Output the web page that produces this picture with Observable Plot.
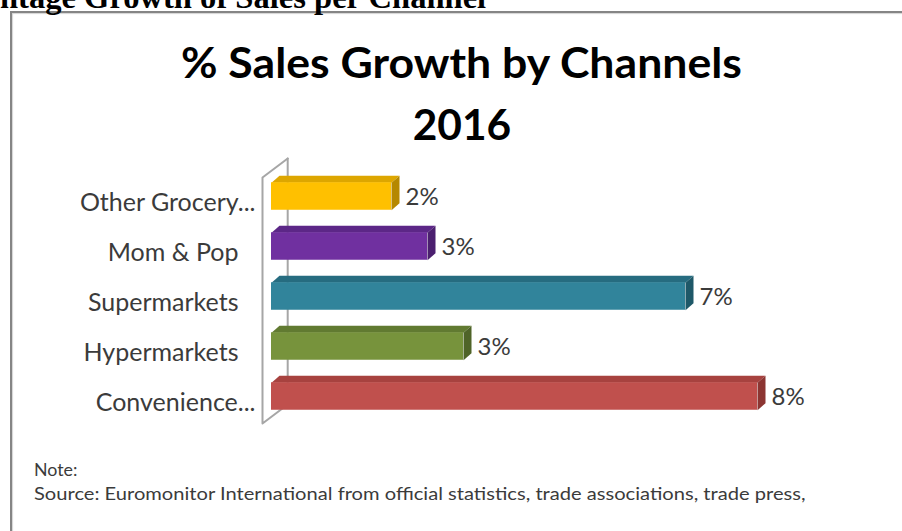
<!DOCTYPE html>
<html>
<head>
<meta charset="utf-8">
<script src="https://cdn.jsdelivr.net/npm/d3@7"></script>
<script src="https://cdn.jsdelivr.net/npm/@observablehq/plot@0.6"></script>
<style>
  html, body { margin: 0; padding: 0; background: #fff; }
  body { width: 902px; height: 531px; overflow: hidden; position: relative; }
  #box { position: absolute; left: 10px; top: 11px; width: 1000px; height: 700px;
         border-left: 2px solid #858585; border-top: 2px solid #858585;
         box-shadow: inset 1px 1px 1px #d4d4d4; }
  #chart { position: absolute; left: 0; top: 0; }
  .t { position: absolute; white-space: nowrap; line-height: 1; transform-origin: 0 0; }
</style>
</head>
<body>
<div id="box"></div>
<div id="chart"></div>
<script>
// ---- data ----
const categories = ["Other Grocery...", "Mom & Pop", "Supermarkets", "Hypermarkets", "Convenience..."];
const growth = [2.0, 2.6, 6.9, 3.2, 8.1];
const valueLabels = ["2%", "3%", "7%", "3%", "8%"];

// ---- style palette ----
const frontColors = ["#FFC000", "#7030A0", "#31849B", "#77933C", "#C0504D"];
const topColors   = ["#DDA600", "#5C2787", "#266C80", "#617A31", "#A7423F"];
const sideColors  = ["#B58800", "#4B1F6F", "#1E5868", "#4F6428", "#8C3532"];

const rows = categories.map((c, i) => ({category: c, index: i, value: growth[i], label: valueLabels[i]}));

// 3D geometry (in scale units)
const half = 0.275;         // half thickness of a bar (y units)
const depthX = 8 / 60;      // bar depth, x units
const depthY = 7 / 50;      // bar depth, y units
const faces = [];
rows.forEach(d => {
  const t = d.index - half, b = d.index + half, v = d.value;
  [[0, t], [v, t], [v + depthX, t - depthY], [depthX, t - depthY]]
    .forEach(([x, y]) => faces.push({face: "top" + d.index, x, y, fill: topColors[d.index]}));
  [[v, t], [v + depthX, t - depthY], [v + depthX, b - depthY], [v, b]]
    .forEach(([x, y]) => faces.push({face: "side" + d.index, x, y, fill: sideColors[d.index]}));
});

// side wall of the 3D plot area
const n = categories.length;
const wallFx = -0.15, wallDx = 0.42, wallDy = 0.38;
const wallTop = -0.38, wallBottom = n - 1 + 0.54;
const wall = [
  {seg: "front", x: wallFx + wallDx, y: wallTop - wallDy},
  {seg: "front", x: wallFx, y: wallTop},
  {seg: "front", x: wallFx, y: wallBottom},
  {seg: "front", x: wallFx + wallDx, y: wallBottom - wallDy},
  {seg: "back", x: wallFx + wallDx, y: wallTop - wallDy},
  {seg: "back", x: wallFx + wallDx, y: wallBottom - wallDy}
];

const truncated = rows.filter(d => d.category.endsWith("..."));
const full = rows.filter(d => !d.category.endsWith("..."));

const plot = Plot.plot({
  width: 902,
  height: 531,
  marginLeft: 271,
  marginRight: 31,
  marginTop: 196,
  marginBottom: 135,
  x: {domain: [0, 10], axis: null},
  y: {domain: [0, n - 1], reverse: true, axis: null},
  color: {type: "identity"},
  style: {background: "transparent", overflow: "visible", fontFamily: "Lato, sans-serif"},
  marks: [
    Plot.line(wall, {x: "x", y: "y", z: "seg", stroke: "#A6A6A6", strokeWidth: 2}),
    Plot.line(faces, {x: "x", y: "y", z: "face", fill: "fill", stroke: "none"}),
    Plot.rect(rows, {x1: () => 0, x2: "value", y1: d => d.index - half, y2: d => d.index + half,
                     fill: d => frontColors[d.index]}),
    Plot.text(full, {x: () => 0, y: "index", text: "category", textAnchor: "end", dx: -33, dy: 6,
                     fontSize: 25, fill: "#3b3b3b"}),
    Plot.text(truncated, {x: () => 0, y: "index", text: "category", textAnchor: "end", dx: -16, dy: 6,
                     fontSize: 25, fill: "#3b3b3b"}),
    Plot.text(rows, {x: "value", y: "index", text: "label", textAnchor: "start", dx: 14, dy: 1,
                     fontSize: 24, fill: "#3b3b3b"})
  ]
});
document.getElementById("chart").appendChild(plot);

// ---- HTML texts fitted to the reference layout ----
const ctx = document.createElement("canvas").getContext("2d");
function place(text, o) {
  const fam = o.family, wt = o.weight || "normal";
  ctx.font = `${wt} 100px ${fam}`;
  let size;
  if (o.fitText) {
    size = o.width / ctx.measureText(o.fitText).width * 100;
  } else {
    const capH = ctx.measureText("H").actualBoundingBoxAscent;
    size = o.cap / capH * 100;
  }
  ctx.font = `${wt} ${size}px ${fam}`;
  const w = ctx.measureText(text).width;
  const sx = (o.width && !o.fitText) ? o.width / w : 1;
  const div = document.createElement("div");
  div.className = "t";
  div.style.font = `${wt} ${size}px ${fam}`;
  div.style.color = o.color || "#000";
  div.style.transform = `scaleX(${sx})`;
  div.appendChild(document.createTextNode(text));
  const mark = document.createElement("span");
  mark.style.cssText = "display:inline-block;width:0;height:0;vertical-align:baseline";
  div.appendChild(mark);
  div.style.left = "0px"; div.style.top = "0px";
  document.body.appendChild(div);
  const base = mark.getBoundingClientRect().top - div.getBoundingClientRect().top;
  div.style.top = (o.baseline - base) + "px";
  let left;
  if (o.center != null) left = o.center - w * sx / 2;
  else if (o.offsetText) { left = o.left - ctx.measureText(o.offsetText).width; }
  else left = o.left;
  div.style.left = left + "px";
}

const serif = "'Liberation Serif', 'Times New Roman', serif";
const sans = "Lato, sans-serif";
place("Percentage Growth of Sales per Channel",
      {family: serif, weight: "bold", fitText: "ntage Growth of Sales per Channel", width: 487,
       offsetText: "Perce", left: 0, baseline: 8, color: "#000"});
place("% Sales Growth by Channels", {family: sans, weight: "bold", cap: 31, width: 562, center: 462, baseline: 78, color: "#000"});
place("2016", {family: sans, weight: "bold", cap: 31, center: 462, baseline: 140, color: "#000"});
place("Note:", {family: sans, cap: 13, left: 34, baseline: 476, color: "#3b3b3b"});
place("Source: Euromonitor International from official statistics, trade associations, trade press,",
      {family: sans, cap: 13, width: 772, left: 34, baseline: 500, color: "#3b3b3b"});
</script>
</body>
</html>
